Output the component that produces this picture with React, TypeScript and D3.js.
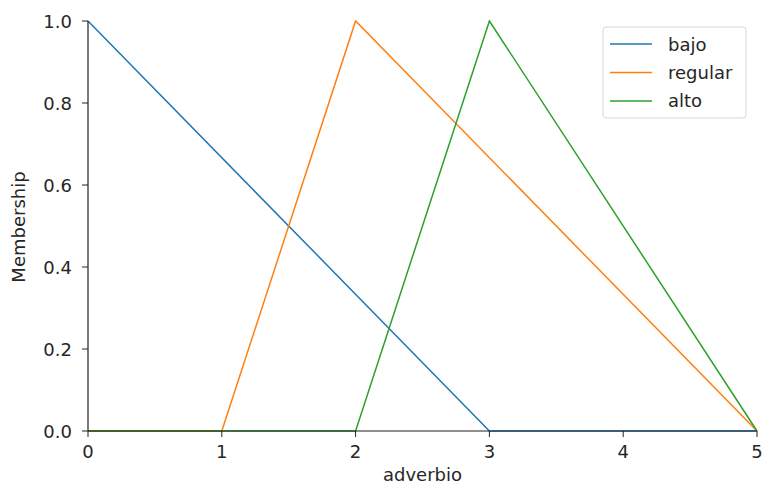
import React from 'react';
import * as d3 from 'd3';

// membership function breakpoints
const universe = [0, 1, 2, 3, 4, 5];
const bajo = [[0, 1], [3, 0], [5, 0]];
const regular = [[0, 0], [1, 0], [2, 1], [5, 0]];
const alto = [[0, 0], [2, 0], [3, 1], [5, 0]];
const seriesNames = ['bajo', 'regular', 'alto'];
const colors = ['#1f77b4', '#ff7f0e', '#2ca02c'];
const yTicks = [0, 0.2, 0.4, 0.6, 0.8, 1.0];

const W = 763;
const H = 486;
const margin = { top: 21, right: 6, bottom: 55, left: 88 };

export default function App() {
  const x = d3.scaleLinear().domain([0, 5]).range([margin.left, W - margin.right]);
  const y = d3.scaleLinear().domain([0, 1]).range([H - margin.bottom, margin.top]);
  const line = d3.line<number[]>().x(d => x(d[0])).y(d => y(d[1]));
  const data = [bajo, regular, alto];
  const font = 'DejaVu Sans, sans-serif';
  const fs = 18;

  return (
    <svg width={W} height={H} style={{ position: 'absolute', left: 0, top: 0, background: '#fff' }}>
      {data.map((d, i) => (
        <path key={i} d={line(d) || ''} fill="none" stroke={colors[i]} strokeWidth={1.5} />
      ))}
      {/* spines */}
      <line x1={x(0)} x2={x(0)} y1={y(0)} y2={y(1)} stroke="#222" strokeWidth={1.2} />
      <line x1={x(0)} x2={x(5)} y1={y(0)} y2={y(0)} stroke="#222" strokeWidth={1.2} />
      {universe.map(t => (
        <g key={t}>
          <line x1={x(t)} x2={x(t)} y1={y(0)} y2={y(0) + 6} stroke="#222" />
          <text x={x(t)} y={y(0) + 27} fontSize={fs} fontFamily={font} textAnchor="middle" fill="#262626">{t}</text>
        </g>
      ))}
      {yTicks.map(t => (
        <g key={t}>
          <line x1={x(0) - 6} x2={x(0)} y1={y(t)} y2={y(t)} stroke="#222" />
          <text x={x(0) - 16} y={y(t) + 7} fontSize={fs} fontFamily={font} textAnchor="end" fill="#262626">{t.toFixed(1)}</text>
        </g>
      ))}
      <text x={(x(0) + x(5)) / 2} y={H - 5} fontSize={fs} fontFamily={font} textAnchor="middle" fill="#262626">adverbio</text>
      <text transform={`translate(25,${(y(0) + y(1)) / 2 + 1}) rotate(-90)`} fontSize={fs} fontFamily={font} textAnchor="middle" fill="#262626">Membership</text>
      {/* legend */}
      <rect x={603} y={27} width={143} height={91} rx={3} fill="#fff" stroke="#ccc" strokeOpacity={0.8} />
      {seriesNames.map((n, i) => (
        <g key={n}>
          <line x1={610} x2={652} y1={44 + i * 28.5} y2={44 + i * 28.5} stroke={colors[i]} strokeWidth={1.5} />
          <text x={668} y={51 + i * 28} fontSize={fs} fontFamily={font} fill="#262626">{n}</text>
        </g>
      ))}
    </svg>
  );
}
